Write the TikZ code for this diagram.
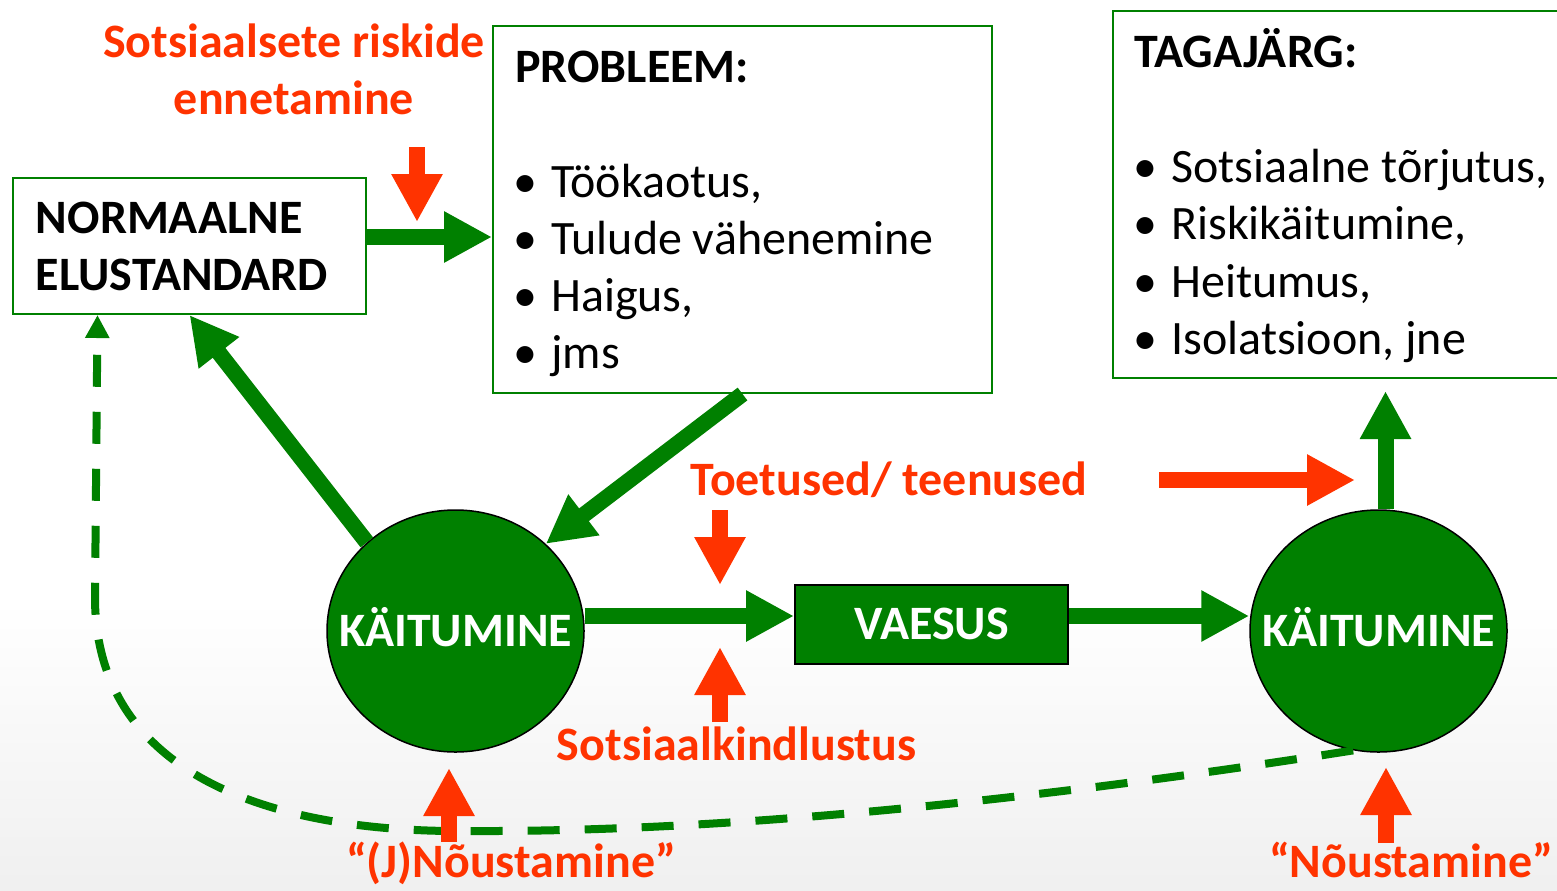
\documentclass[tikz,border=0pt]{standalone}
\usepackage{fontspec}
\setmainfont{Carlito}
\usetikzlibrary{arrows.meta,shapes.geometric}
\definecolor{kgreen}{RGB}{0,128,0}
\definecolor{kred}{RGB}{255,51,0}
\newcommand\bigtext{\fontsize{27.3}{32.4}\selectfont}
\tikzset{>={Triangle[length=9.6mm,width=9.6mm]}}
\tikzset{
  greenbox/.style={draw=kgreen,line width=0.4mm,fill=white,inner sep=0pt},
  heading/.style={anchor=base west,inner sep=0pt,font=\bigtext\bfseries},
  bulletline/.style={anchor=base west,inner sep=0pt,font=\bigtext},
  redlabel/.style={anchor=base,inner sep=0pt,text=kred,font=\bigtext\bfseries},
  behave/.style={ellipse,draw=black,line width=0.3mm,fill=kgreen,text=white,
    minimum width=51.4mm,minimum height=48.4mm,inner sep=0pt,
    text height=6.1mm,text depth=0pt,font=\bigtext\bfseries},
  blockarrow/.style={->,line width=3.2mm,draw=kgreen},
  riskarrow/.style={->,line width=3.1mm,draw=kred},
  loopback/.style={-{Triangle[length=4.6mm,width=4.6mm]},line width=1.6mm,
    draw=kgreen,dash pattern=on 6.4mm off 5mm},
}

\begin{document}
\begin{tikzpicture}[x=0.2mm,y=-0.2mm]
\useasboundingbox (0,0) rectangle (1557,890);
\shade[top color=white,bottom color=black!6] (0,600) rectangle (1557,890);

% boxes
\node[greenbox,text width=61.4mm,inner xsep=4.6mm,minimum height=27.2mm,
  align=left,font=\bigtext\bfseries] (norm) at (189.5,246) {NORMAALNE\\ELUSTANDARD};
\node[greenbox,minimum width=99.8mm,minimum height=73.4mm] (prob) at (742.5,209.5) {};
\node[heading] (probhead) at (515,82) {PROBLEEM:};
\foreach \t [count=\i] in {{Töökaotus,},{Tulude vähenemine},{Haigus,},{jms}}
  \node[bulletline] (prob\i) at (510,{197+57.3*(\i-1)}) {\makebox[6mm]{\textbullet}\hspace{2.2mm}\t};
\node[greenbox,minimum width=91.4mm,minimum height=73.4mm] (tag) at (1341.5,194.5) {};
\node[heading] (taghead) at (1134,67) {TAGAJÄRG:};
\foreach \t [count=\i] in {{Sotsiaalne tõrjutus,},{Riskikäitumine,},{Heitumus,},{Isolatsioon, jne}}
  \node[bulletline] (tag\i) at (1130,{182.5+57.4*(\i-1)}) {\makebox[6mm]{\textbullet}\hspace{2.2mm}\t};

% circles and poverty
\node[behave] (k1) at (455.5,631) {\makebox[0pt]{KÄITUMINE}};
\node[behave] (k2) at (1378.5,631) {\makebox[0pt]{KÄITUMINE}};
\node[draw=black,line width=0.4mm,fill=kgreen,text=white,minimum width=54.6mm,
  minimum height=15.8mm,text height=6.1mm,text depth=0pt,font=\bigtext\bfseries] (vaes) at (931.5,624.5) {VAESUS};

% red labels
\node[redlabel] (risk1) at (294,57) {Sotsiaalsete riskide};
\node[redlabel] (risk2) at (294,114) {ennetamine};
\node[redlabel] (toetus) at (889,495) {Toetused/ teenused};
\node[redlabel] (kindl) at (736.5,760) {Sotsiaalkindlustus};
\node[redlabel] (jnou) at (511,877) {“(J)Nõustamine”};
\node[redlabel] (nou) at (1411,877) {“Nõustamine”};

% green flow
\coordinate (n1) at ([yshift=1.8mm]norm.east);
\draw[blockarrow] (n1) -- (n1 -| prob.west);
\draw[blockarrow] (prob.south) -- (k1.44);
\draw[blockarrow] (k1.135) -- (norm.south);
\coordinate (v1) at ([yshift=3mm]k1.east);
\draw[blockarrow] (v1) -- (v1 -| vaes.west);
\draw[blockarrow] (v1 -| vaes.east) -- (v1 -| k2.west);
\coordinate (t1) at ([xshift=1.4mm]k2.north);
\draw[blockarrow,shorten >=2.4mm] (t1) -- (t1 |- tag.south);

% back to normal
\coordinate (lb) at ([xshift=-18.4mm]norm.south);
\draw[loopback] (k2.258) .. controls (1000,806) and (700,832) .. (470,831)
  .. controls (280,833) and (97,780) .. (95,600) -- (lb);

% red arrows
\foreach \n/\xa/\ya/\xb/\yb in {prev/417/147/417/222, supp/720/510/720/585,
    ins/720/722/720/647, cons/1159/480/1355/480, jcou/449/842/449/768,
    cou/1386/843/1386/767} {
  \coordinate (\n a) at (\xa,\ya);
  \coordinate (\n b) at (\xb,\yb);
  \draw[riskarrow] (\n a) -- (\n b);
}
\end{tikzpicture}
\end{document}
